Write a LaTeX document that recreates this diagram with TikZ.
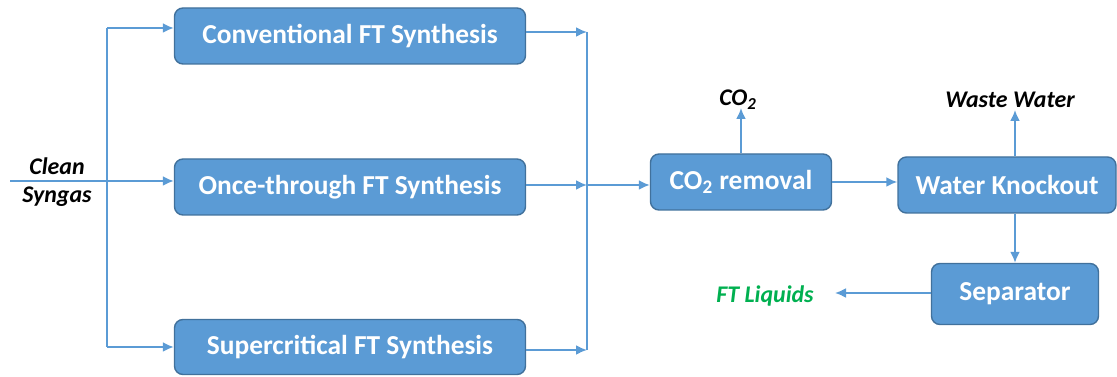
\documentclass[tikz,border=0pt]{standalone}
\usepackage{fontspec}
\setmainfont{Carlito}
\usepackage{tikz}
\usetikzlibrary{arrows.meta, positioning, calc}
\definecolor{cBox}{HTML}{5B9BD5}
\definecolor{cEdge}{HTML}{41719C}
\definecolor{cGreen}{HTML}{00B050}

\begin{document}
\begin{tikzpicture}[
    x=0.02cm, y=-0.02cm,
    arrow/.style={-{Latex[length=0.22cm, width=0.2cm]}, draw=cBox, line width=1.1pt},
    line/.style={draw=cBox, line width=1.1pt},
    unit/.style={draw=cEdge, fill=cBox, line width=0.8pt, rounded corners=0.17cm,
                 text=white, font=\fontsize{15.6}{18}\selectfont\bfseries, inner sep=0pt},
    lab/.style={font=\fontsize{13.6}{15}\selectfont\bfseries\itshape, align=center},
]
\useasboundingbox (0,0) rectangle (1117,377);

% ---------- Reactors ----------
\node[unit, minimum width=0.02cm*351, minimum height=0.02cm*56] (conv)  at (350,36)  {Conventional FT Synthesis};
\node[unit, minimum width=0.02cm*351, minimum height=0.02cm*56] (once)  at (350,187) {Once-through FT Synthesis};
\node[unit, minimum width=0.02cm*351, minimum height=0.02cm*55] (super) at (350,347) {Supercritical FT Synthesis};

% ---------- Downstream units ----------
\node[unit, minimum width=0.02cm*181, minimum height=0.02cm*56] (co2rem) at (741,182)  {CO\textsubscript{2} removal};
\node[unit, minimum width=0.02cm*218, minimum height=0.02cm*56] (knock)  at (1007,185) {Water Knockout};
\node[unit, minimum width=0.02cm*167, minimum height=0.02cm*61] (sep)    at (1015,294) {Separator};

% ---------- Labels ----------
\node[lab] (syngas) at (57,182) {Clean\\[1pt]Syngas};
\node[lab] (co2)    at (738,100) {CO\textsubscript{2}};
\node[lab] (waste)  at (1010,100) {Waste Water};
\node[lab, text=cGreen] (ftliq) at (765,296) {FT Liquids};

% ---------- Feed split ----------
\coordinate (feed)   at (10,181);
\coordinate (splitA) at (107,28);
\coordinate (splitB) at (107,181);
\coordinate (splitC) at (107,347);
\draw[line] (feed) -- (splitB);
\draw[line] (splitA) -- (splitC);
\draw[arrow] (splitA) -- (splitA -| conv.west);
\draw[arrow] (splitB) -- (splitB -| once.west);
\draw[arrow] (splitC) -- (splitC -| super.west);

% ---------- Product merge ----------
\coordinate (mergeA) at (587,32);
\coordinate (mergeB) at (587,185);
\coordinate (mergeC) at (587,350);
\draw[line] (mergeA) -- (mergeC);
\draw[arrow] (conv.east |- mergeA) -- (mergeA);
\draw[arrow] (once.east |- mergeB) -- (mergeB);
\draw[arrow] (super.east |- mergeC) -- (mergeC);
\draw[arrow] (mergeB) -- (co2rem.west |- mergeB);

% ---------- Clean-up train ----------
\coordinate (co2out)   at (741,108);
\coordinate (wasteout) at (1015,110);
\coordinate (liqout)   at (835,293);
\draw[arrow] (co2rem.north) -- (co2out);
\draw[arrow] (co2rem.east) -- (co2rem.east -| knock.west);
\draw[arrow] (wasteout |- knock.north) -- (wasteout);
\draw[arrow] (knock.south -| sep.north) -- (sep.north);
\draw[arrow] (sep.west |- liqout) -- (liqout);

\end{tikzpicture}
\end{document}
